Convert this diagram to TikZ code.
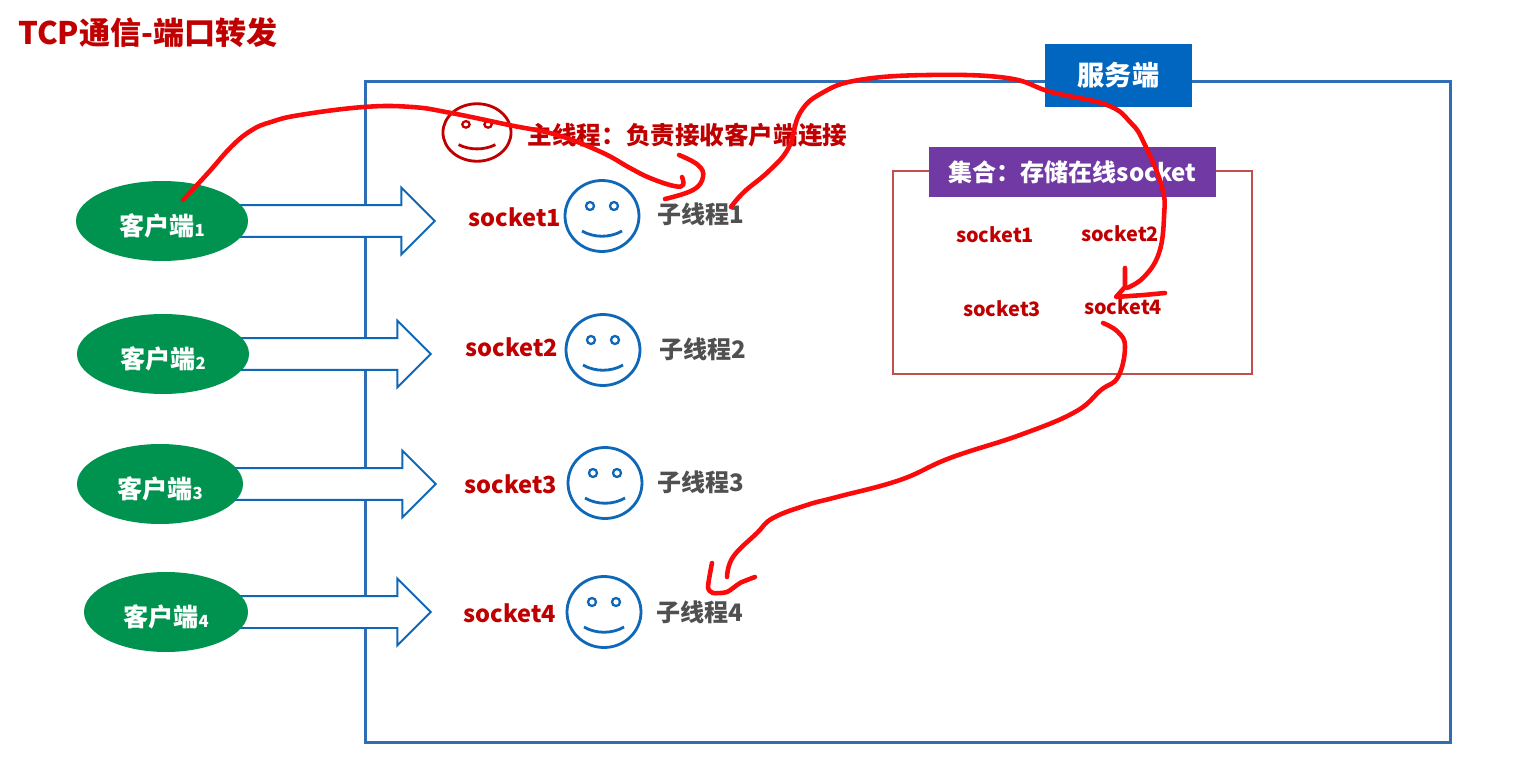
\documentclass[tikz,border=0pt]{standalone}
\usepackage{fontspec}
\setmainfont{Noto Sans CJK SC}
\usetikzlibrary{shapes.geometric, shapes.arrows}
\definecolor{framered}{HTML}{C00000}
\definecolor{frameblue}{HTML}{2F6DB5}
\definecolor{faceblue}{HTML}{0F67B8}
\definecolor{boxblue}{HTML}{0066C0}
\definecolor{boxpurple}{HTML}{7039A3}
\definecolor{boxred}{HTML}{C0504D}
\definecolor{clientgreen}{HTML}{00934F}
\definecolor{threadgray}{HTML}{505050}
\definecolor{penred}{HTML}{FA0A0A}
\newcommand{\sized}[1]{\fontsize{#1}{#1}\selectfont\bfseries}
\tikzset{
    outerbox/.style={draw=frameblue, line width=1.7pt, inner sep=0pt},
    setbox/.style={draw=boxred, line width=1.6pt, inner sep=0pt},
    client/.style={ellipse, fill=clientgreen, text=white, inner sep=0pt, font=\sized{14.3}},
    pipe/.style={single arrow, draw=faceblue, fill=white, line width=1.1pt, inner sep=0pt, inner ysep=0.3cm,
        minimum height=4.6cm,
        single arrow head extend=0.345cm, single arrow head indent=0pt, anchor=tip},
    socketname/.style={text=framered, font=\sized{13.4}, inner sep=0pt},
    smallsocket/.style={text=framered, font=\sized{11.3}, inner sep=0pt},
    threadname/.style={text=threadgray, font=\sized{13.7}, inner sep=0pt},
    facebody/.style={ellipse, draw, fill=white, line width=1.6pt, inner sep=0pt, transform shape},
    smiley/.pic={
        \node[facebody, minimum width=1.48cm, minimum height=1.42cm] (-body) at (0, 0) {};
        \draw[line width=1.3pt] (-12, -10) circle (0.08cm);
        \draw[line width=1.3pt] (12, -10) circle (0.08cm);
        \draw[line width=1.6pt] (-20, 15) .. controls (-8, 22) and (8, 22) .. (20, 15);
    },
    pen/.style={draw=penred, line width=2.6pt, line cap=round, line join=round}
}

\begin{document}
\begin{tikzpicture}[x=0.02cm, y=-0.02cm]
    \useasboundingbox (0, 0) rectangle (1532, 770);
    % title
    \node[text=framered, font=\sized{17.7}, inner sep=0pt] (title) at (148, 33) {TCP通信-端口转发};
    % server frame and its label
    \node[outerbox, minimum width=21.72cm, minimum height=13.24cm] (server) at (908, 412) {};
    \node[fill=boxblue, text=white, font=\sized{15.5}, minimum width=2.94cm, minimum height=1.26cm, inner sep=0pt]
        (serverlabel) at (1118.5, 75.5) {服务端};
    % clients with their arrows
    \foreach \i/\cx/\cy/\rx/\tip in {1/162/221/172/436, 2/163/354/172/432, 3/160/484/166/437, 4/166/612/164/432}{
        \node[pipe] (pipe\i) at (\tip, \cy) {};
        \node[client, minimum width=\rx*0.02cm, minimum height=1.6cm] (client\i) at (\cx, \cy)
            {\raisebox{-0.1cm}[\height][\depth]{客户端{\fontsize{9.5}{9.5}\selectfont\raisebox{-0.5pt}{\i}}}};
    }
    % main thread
    \pic[framered, xscale=0.92, yscale=0.81] (mainface) at (477, 132.5) {smiley};
    \node[text=framered, font=\sized{14}, inner sep=0pt] (mainthread) at (687.5, 135) {主线程：负责接收客户端连接};
    % one thread per client
    \foreach \i/\sx/\sy/\fx/\fy/\tx/\ty in {
        1/515/217/602/216/701/214, 2/512/347/603/350/703/349,
        3/511/484/605/483/701/482, 4/510/613/604/612/700/612
    }{
        \node[socketname] (socket\i) at (\sx, \sy) {socket\i};
        \pic[faceblue] (face\i) at (\fx, \fy) {smiley};
        \node[threadname] (thread\i) at (\tx, \ty) {子线程\i};
    }
    % online socket set
    \node[setbox, minimum width=7.18cm, minimum height=4.06cm] (setframe) at (1072.5, 272.5) {};
    \node[fill=boxpurple, text=white, font=\sized{13.7}, minimum width=5.74cm, minimum height=1cm, inner sep=0pt]
        (setlabel) at (1072.5, 172) {集合：存储在线socket};
    \foreach \i/\sx/\sy in {1/995/235, 2/1120/234, 3/1002/309, 4/1123/307}{
        \node[smallsocket] (setsocket\i) at (\sx, \sy) {socket\i};
    }
    % hand drawn strokes
    \draw[pen] plot[smooth, tension=0.7] coordinates {
        (183,200) (208,173) (232,146) (252,130) (271,122) (300,115) (364,107) (412,107) (451,113)
        (509,125) (557,135) (601,152) (630,168) (650,178) (674,186) (683,185) (682,177)};
    \draw[pen] plot[smooth, tension=0.7] coordinates {
        (679,155) (698,165) (703,177) (693,190) (665,199)};
    \draw[pen] plot[smooth, tension=0.7] coordinates {
        (731,207) (744,192) (770,170) (789,147) (800,113) (822,93) (859,80) (929,75)
        (1007,78) (1051,92) (1107,105) (1131,123) (1144,143) (1162,187) (1164,217)
        (1159,253) (1144,277) (1127,288)};
    \draw[pen] (1125,268) -- (1125,287) -- (1116,297) -- (1144,295) -- (1165,293);
    \draw[pen] plot[smooth, tension=0.7] coordinates {
        (1103,323) (1118,332) (1125,347) (1118,377) (1101,390) (1075,412) (1020,435)
        (950,458) (900,480) (837,497) (807,505) (773,518) (757,533) (733,557) (727,577)};
    \draw[pen] plot[smooth, tension=0.4] coordinates {
        (712,563) (708,587) (713,593) (727,592) (740,583) (755,577)};
\end{tikzpicture}
\end{document}
